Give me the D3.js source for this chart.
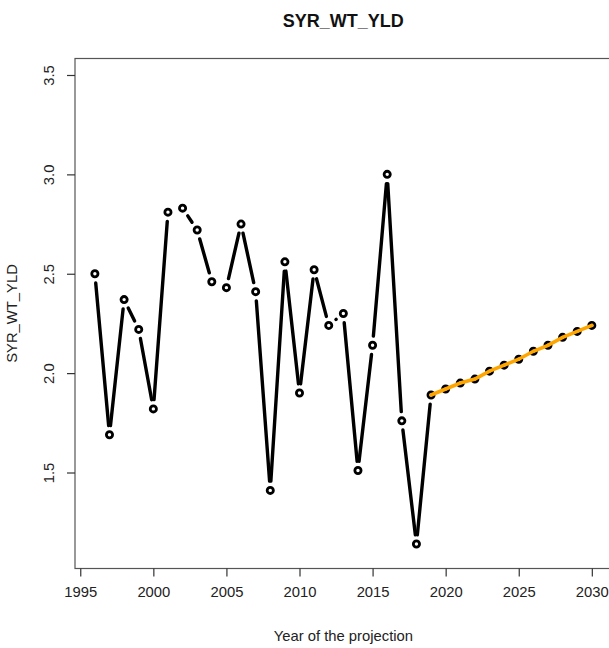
<!DOCTYPE html>
<html>
<head>
<meta charset="utf-8">
<script src="https://cdn.jsdelivr.net/npm/d3@7"></script>
<style>
  html, body { margin: 0; padding: 0; background: #fff; }
  svg { display: block; font-family: "Liberation Sans", Arial, sans-serif; }
</style>
</head>
<body>
<svg id="chart" width="609" height="648"></svg>
<script>
const title = "SYR_WT_YLD";
const yLabel = "SYR_WT_YLD";
const xLabel = "Year of the projection";

const years = [1996,1997,1998,1999,2000,2001,2002,2003,2004,2005,2006,2007,2008,2009,2010,
               2011,2012,2013,2014,2015,2016,2017,2018,2019,2020,2021,2022,2023,2024,2025,
               2026,2027,2028,2029,2030];
const values = [2.50,1.69,2.37,2.22,1.82,2.81,2.83,2.72,2.46,2.43,2.75,2.41,1.41,2.56,1.90,
                2.52,2.24,2.30,1.51,2.14,3.00,1.76,1.14,1.89,1.92,1.95,1.97,2.01,2.04,2.07,
                2.11,2.14,2.18,2.21,2.24];
const projYears = [2019,2020,2021,2022,2023,2024,2025,2026,2027,2028,2029,2030];
const projValues = [1.89,1.92,1.95,1.97,2.01,2.04,2.07,2.11,2.14,2.18,2.21,2.24];

const xTicks = [1995,2000,2005,2010,2015,2020,2025,2030];
const yTicks = [1.5,2.0,2.5,3.0,3.5];

(function () {
const svg = d3.select("#chart");
const mLeft = 75, mRight = 611.7, mTop = 58.5, mBottom = 568.5;

const x = d3.scaleLinear().domain([1994.64, 2031.36]).range([mLeft, mRight]);
const y = d3.scaleLinear().domain([1.017, 3.583]).range([mBottom, mTop]);

// Title
svg.append("text")
  .attr("x", (mLeft + mRight) / 2).attr("y", 27)
  .attr("text-anchor", "middle")
  .attr("font-size", "18px").attr("font-weight", "bold")
  .attr("fill", "#111")
  .text(title);

// Box
svg.append("rect")
  .attr("x", mLeft).attr("y", mTop)
  .attr("width", mRight - mLeft).attr("height", mBottom - mTop)
  .attr("fill", "none").attr("stroke", "#555").attr("stroke-width", 1.2);

// X axis
const xAxis = svg.append("g")
  .attr("transform", `translate(0,${mBottom})`)
  .call(d3.axisBottom(x).tickValues(xTicks).tickFormat(d3.format("d")).tickSize(8).tickSizeOuter(0).tickPadding(10));
xAxis.select(".domain").remove();
xAxis.selectAll(".tick line").attr("stroke", "#333").attr("stroke-width", 1.2);
xAxis.selectAll(".tick text").attr("font-size", "14.8px").attr("fill", "#222")
  .attr("font-family", "Liberation Sans, Arial, sans-serif");

// Y axis
const yAxis = svg.append("g")
  .attr("transform", `translate(${mLeft},0)`)
  .call(d3.axisLeft(y).tickValues(yTicks).tickFormat(d3.format(".1f")).tickSize(8).tickSizeOuter(0));
yAxis.select(".domain").remove();
yAxis.selectAll(".tick line").attr("stroke", "#333").attr("stroke-width", 1.2);
yAxis.selectAll(".tick text")
  .attr("font-size", "14.8px").attr("fill", "#222")
  .attr("font-family", "Liberation Sans, Arial, sans-serif")
  .attr("text-anchor", "middle")
  .attr("x", null).attr("dy", null)
  .attr("transform", "translate(-21.5,0) rotate(-90)");

// Axis labels
svg.append("text")
  .attr("x", (mLeft + mRight) / 2).attr("y", 641)
  .attr("text-anchor", "middle")
  .attr("font-size", "14.8px").attr("fill", "#222")
  .text(xLabel);

svg.append("text")
  .attr("transform", `translate(17,${(mTop + mBottom) / 2}) rotate(-90)`)
  .attr("text-anchor", "middle")
  .attr("font-size", "14.8px").attr("fill", "#222")
  .text(yLabel);

// Type "b" line segments (gaps around points)
const pts = years.map((yr, i) => [x(yr), y(values[i])]);
const gap = 9.3;
const segs = [];
for (let i = 0; i < pts.length - 1; i++) {
  const [x0, y0] = pts[i], [x1, y1] = pts[i + 1];
  const dx = x1 - x0, dy = y1 - y0;
  const d = Math.hypot(dx, dy);
  if (d > 2 * gap) {
    const ux = dx / d, uy = dy / d;
    segs.push([x0 + gap * ux, y0 + gap * uy, x1 - gap * ux, y1 - gap * uy]);
  }
}
svg.append("g").selectAll("line").data(segs).join("line")
  .attr("x1", d => d[0]).attr("y1", d => d[1])
  .attr("x2", d => d[2]).attr("y2", d => d[3])
  .attr("stroke", "#000").attr("stroke-width", 3.4).attr("stroke-linecap", "round");

// Points
svg.append("g").selectAll("circle").data(years).join("circle")
  .attr("cx", (d) => x(d))
  .attr("cy", (d, i) => y(values[i]))
  .attr("r", 3.1)
  .attr("fill", "none").attr("stroke", "#000").attr("stroke-width", 2.8);

// Projection line
const projLine = d3.line().x((d, i) => x(projYears[i])).y(d => y(d));
svg.append("path")
  .datum(projValues)
  .attr("d", projLine)
  .attr("fill", "none").attr("stroke", "#FFA500").attr("stroke-width", 3.6)
  .attr("stroke-linecap", "round");
})();
</script>
</body>
</html>
